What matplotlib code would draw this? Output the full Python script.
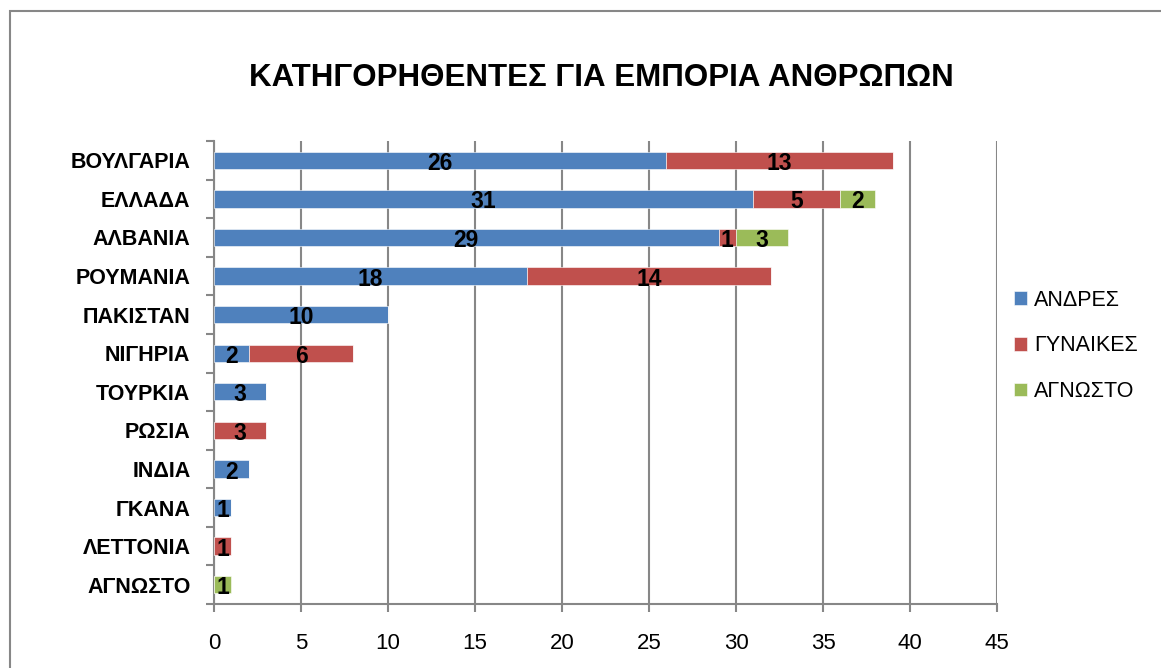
import matplotlib.pyplot as plt
from matplotlib.patches import Rectangle
import numpy as np

countries = ['ΒΟΥΛΓΑΡΙΑ', 'ΕΛΛΑΔΑ', 'ΑΛΒΑΝΙΑ', 'ΡΟΥΜΑΝΙΑ', 'ΠΑΚΙΣΤΑΝ', 'ΝΙΓΗΡΙΑ',
             'ΤΟΥΡΚΙΑ', 'ΡΩΣΙΑ', 'ΙΝΔΙΑ', 'ΓΚΑΝΑ', 'ΛΕΤΤΟΝΙΑ', 'ΑΓΝΩΣΤΟ']
men = [26, 31, 29, 18, 10, 2, 3, 0, 2, 1, 0, 0]
women = [13, 5, 1, 14, 0, 6, 0, 3, 0, 0, 1, 0]
unknown = [0, 2, 3, 0, 0, 0, 0, 0, 0, 0, 0, 1]
series_names = ['ΑΝΔΡΕΣ', 'ΓΥΝΑΙΚΕΣ', 'ΑΓΝΩΣΤΟ']
colors = ['#4F81BD', '#C0504D', '#9BBB59']
title = 'ΚΑΤΗΓΟΡΗΘΕΝΤΕΣ ΓΙΑ ΕΜΠΟΡΙΑ ΑΝΘΡΩΠΩΝ'

plt.rcParams['font.family'] = ['Liberation Sans', 'DejaVu Sans']

fig = plt.figure(figsize=(11.61, 6.68), dpi=100)
# outer chart border
fig.patches.append(Rectangle((10 / 1161, -0.1), 1.2, 1 - 11 / 668 + 0.1,
                             transform=fig.transFigure, fill=False,
                             edgecolor='#878787', linewidth=1.5))

ax = fig.add_axes([214 / 1161, 64 / 668, 783 / 1161, 463 / 668])

y = np.arange(len(countries))
left = np.zeros(len(countries))
for vals, name, c in zip([men, women, unknown], series_names, colors):
    vals = np.array(vals, dtype=float)
    ax.barh(y, vals, left=left, height=0.45, color=c, label=name,
            edgecolor='white', linewidth=0.4, zorder=3)
    for yi, l, v in zip(y, left, vals):
        if v > 0:
            ax.text(l + v / 2, yi + 0.08, f'{int(v)}', ha='center', va='center',
                    fontsize=16.5, fontweight='bold', color='black', zorder=4)
    left += vals

ax.set_ylim(len(countries) - 0.5, -0.5)
ax.set_xlim(0, 45)
ax.set_xticks(range(0, 46, 5))
ax.set_yticks(y)
ax.set_yticks(np.arange(-0.5, len(countries), 1.0), minor=True)
ax.set_yticklabels(countries, fontsize=15.5, fontweight='bold')
ax.tick_params(axis='x', labelsize=16, length=6, width=1.5, color='#878787', pad=15)
ax.tick_params(axis='y', which='major', length=0, pad=17)
ax.tick_params(axis='y', which='minor', length=6, width=1.5, color='#878787')
ax.xaxis.grid(True, color='#878787', linewidth=1.5, zorder=0)
ax.set_axisbelow(True)
for s in ['top', 'right']:
    ax.spines[s].set_visible(False)
for s in ['left', 'bottom']:
    ax.spines[s].set_color('#878787')
    ax.spines[s].set_linewidth(1.5)

fig.text(601 / 1161, 1 - 78 / 668, title, ha='center', va='center',
         fontsize=22.5, fontweight='bold')

ax.legend(loc='upper left', bbox_to_anchor=(1005 / 1161, 1 - 281 / 668),
          bbox_transform=fig.transFigure, frameon=False,
          fontsize=15.5, handlelength=0.6, handleheight=0.6, labelspacing=1.15,
          handletextpad=0.35, borderaxespad=0)

fig.savefig('out.png', dpi=100)
